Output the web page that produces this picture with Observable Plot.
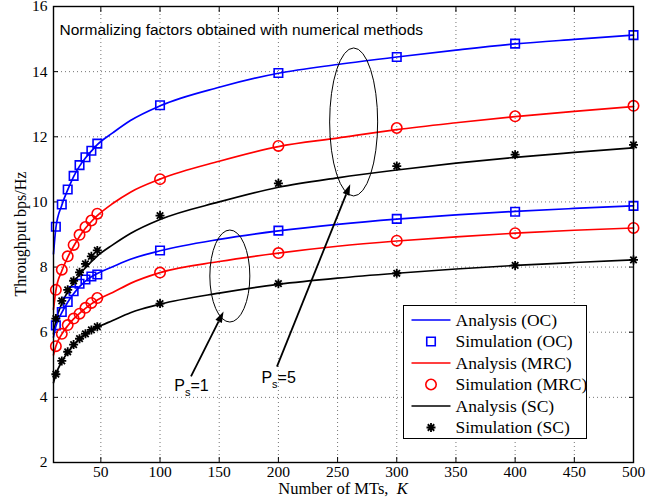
<!DOCTYPE html>
<html>
<head>
<meta charset="utf-8">
<script src="https://cdn.jsdelivr.net/npm/d3@7"></script>
<script src="https://cdn.jsdelivr.net/npm/@observablehq/plot@0.6"></script>
<style>
  body { margin: 0; background: #fff; }
  #chart svg { display: block; }
</style>
</head>
<body>
<div id="chart"></div>
<script>
// Number of mobile terminals K at which the analytical curves are sampled
const kAnalysis = [10, 12, 17, 22, 27, 32, 37, 42, 47, 60, 75, 100, 150, 200, 250, 300, 350, 400, 450, 500];

// Analytical throughput (bps/Hz), P_s = 5
const ocP5Analysis  = [8.40, 9.20, 9.90, 10.37, 10.78, 11.10, 11.35, 11.56, 11.76, 12.12, 12.50, 12.95, 13.52, 13.95, 14.22, 14.45, 14.66, 14.85, 14.99, 15.12];
const mrcP5Analysis = [6.70, 7.28, 7.88, 8.30, 8.64, 8.94, 9.19, 9.40, 9.58, 9.95, 10.30, 10.70, 11.25, 11.70, 11.96, 12.22, 12.43, 12.62, 12.78, 12.93];
const scP5Analysis  = [5.95, 6.35, 6.88, 7.24, 7.52, 7.77, 7.98, 8.17, 8.34, 8.68, 9.03, 9.46, 10.00, 10.45, 10.74, 10.98, 11.19, 11.37, 11.52, 11.66];

// Analytical throughput (bps/Hz), P_s = 1
const ocP1Analysis  = [5.85, 6.18, 6.60, 6.92, 7.18, 7.40, 7.57, 7.70, 7.80, 8.01, 8.24, 8.50, 8.85, 9.11, 9.31, 9.47, 9.60, 9.71, 9.80, 9.88];
const mrcP1Analysis = [5.30, 5.57, 5.94, 6.20, 6.41, 6.58, 6.73, 6.87, 6.99, 7.22, 7.50, 7.83, 8.17, 8.43, 8.64, 8.80, 8.93, 9.04, 9.13, 9.20];
const scP1Analysis  = [4.45, 4.70, 5.10, 5.38, 5.60, 5.78, 5.93, 6.05, 6.15, 6.36, 6.60, 6.86, 7.20, 7.47, 7.66, 7.81, 7.94, 8.05, 8.14, 8.22];

// K values of the simulated points
const kSimulation = [12, 17, 22, 27, 32, 37, 42, 47, 100, 200, 300, 400, 500];

// Simulated throughput (bps/Hz), P_s = 5
const ocP5Sim  = [9.24, 9.92, 10.38, 10.80, 11.13, 11.37, 11.57, 11.79, 12.97, 13.96, 14.45, 14.86, 15.12];
const mrcP5Sim = [7.30, 7.92, 8.33, 8.68, 8.99, 9.23, 9.43, 9.64, 10.70, 11.72, 12.27, 12.63, 12.95];
const scP5Sim  = [6.42, 6.96, 7.30, 7.58, 7.84, 8.10, 8.33, 8.51, 9.58, 10.57, 11.10, 11.45, 11.75];

// Simulated throughput (bps/Hz), P_s = 1
const ocP1Sim  = [6.21, 6.62, 6.93, 7.26, 7.49, 7.62, 7.71, 7.77, 8.51, 9.12, 9.48, 9.70, 9.88];
const mrcP1Sim = [5.57, 5.95, 6.22, 6.42, 6.57, 6.75, 6.90, 7.05, 7.83, 8.43, 8.81, 9.04, 9.20];
const scP1Sim  = [4.71, 5.12, 5.40, 5.62, 5.80, 5.95, 6.07, 6.17, 6.88, 7.49, 7.81, 8.05, 8.22];

// Axis ticks
const xTicks = [50, 100, 150, 200, 250, 300, 350, 400, 450, 500];
const yTicks = [2, 4, 6, 8, 10, 12, 14, 16];

// Combining schemes: legend names and styles
const schemes = [
  {key: "OC",  color: "#0000ff", symbol: "square"},
  {key: "MRC", color: "#ff0000", symbol: "circle"},
  {key: "SC",  color: "#000000", symbol: "star"}
];

const series = [
  {scheme: "OC",  ps: 5, analysis: ocP5Analysis,  sim: ocP5Sim},
  {scheme: "MRC", ps: 5, analysis: mrcP5Analysis, sim: mrcP5Sim},
  {scheme: "SC",  ps: 5, analysis: scP5Analysis,  sim: scP5Sim},
  {scheme: "OC",  ps: 1, analysis: ocP1Analysis,  sim: ocP1Sim},
  {scheme: "MRC", ps: 1, analysis: mrcP1Analysis, sim: mrcP1Sim},
  {scheme: "SC",  ps: 1, analysis: scP1Analysis,  sim: scP1Sim}
];

const colorOf = Object.fromEntries(schemes.map(s => [s.key, s.color]));

const analysisRows = series.flatMap(s =>
  kAnalysis.map((k, i) => ({k, value: s.analysis[i], scheme: s.scheme, id: s.scheme + s.ps})));
const simRows = series.flatMap(s =>
  kSimulation.map((k, i) => ({k, value: s.sim[i], scheme: s.scheme})));

// MATLAB-style "*" marker: a plus overlaid with a cross
const star = {
  draw(context, size) {
    const r = Math.sqrt(size / Math.PI);
    const d = r * 0.72;
    context.moveTo(-r, 0); context.lineTo(r, 0);
    context.moveTo(0, -r); context.lineTo(0, r);
    context.moveTo(-d, -d); context.lineTo(d, d);
    context.moveTo(-d, d); context.lineTo(d, -d);
  }
};

const gridStyle = {stroke: "#000", strokeOpacity: 0.55, strokeWidth: 1, strokeDasharray: "1,3"};
const serifFont = "'Liberation Serif', 'Times New Roman', serif";
const sansFont = "'Liberation Sans', Arial, Helvetica, sans-serif";

const chart = Plot.plot({
  width: 668,
  height: 501,
  marginLeft: 53,
  marginRight: 35,
  marginTop: 6,
  marginBottom: 39,
  style: {fontFamily: serifFont, fontSize: "15.5px", color: "#000", background: "#fff"},
  x: {domain: [10, 500]},
  y: {domain: [2, 16]},
  marks: [
    Plot.gridX(xTicks, gridStyle),
    Plot.gridY(yTicks, gridStyle),
    Plot.axisX(xTicks, {anchor: "bottom", tickSize: -5, tickPadding: 8, label: null, strokeWidth: 1}),
    Plot.axisX(xTicks, {anchor: "top", tickSize: -5, tickFormat: () => "", label: null, strokeWidth: 1}),
    Plot.axisY(yTicks, {anchor: "left", tickSize: -5, tickPadding: 11, label: null, strokeWidth: 1}),
    Plot.axisY(yTicks, {anchor: "right", tickSize: -5, tickFormat: () => "", label: null, strokeWidth: 1}),
    Plot.line(analysisRows, {
      x: "k", y: "value", z: "id", stroke: d => colorOf[d.scheme],
      strokeWidth: 1.7, curve: "monotone-x"
    }),
    Plot.dot(simRows.filter(d => d.scheme === "OC"), {
      x: "k", y: "value", symbol: "square", r: 4.8, stroke: colorOf.OC, strokeWidth: 1.6, fill: "none"
    }),
    Plot.dot(simRows.filter(d => d.scheme === "MRC"), {
      x: "k", y: "value", symbol: "circle", r: 5.2, stroke: colorOf.MRC, strokeWidth: 1.6, fill: "none"
    }),
    Plot.dot(simRows.filter(d => d.scheme === "SC"), {
      x: "k", y: "value", symbol: star, r: 4.5, stroke: colorOf.SC, strokeWidth: 1.8, fill: "none"
    }),
    Plot.text(["Normalizing factors obtained with numerical methods"], {
      frameAnchor: "top-left", dx: 6, dy: 17, textAnchor: "start", lineAnchor: "top",
      fontFamily: sansFont, fontSize: 15.5, fill: "#000"
    }),
    Plot.frame({stroke: "#000", strokeWidth: 1.4})
  ]
});

document.getElementById("chart").appendChild(chart);

// Annotations, legend and axis titles drawn on top of the plot
const svg = d3.select(chart);
const sx = chart.scale("x").apply;
const sy = chart.scale("y").apply;
const W = 668, H = 501, ML = 53, MR = 35, MT = 6, MB = 39;

// Axis titles
svg.append("text")
  .attr("x", (ML + W - MR) / 2).attr("y", 494)
  .attr("text-anchor", "middle")
  .attr("font-family", serifFont).attr("font-size", 16.5)
  .call(t => {
    t.append("tspan").text("Number of MTs,\u00a0\u00a0");
    t.append("tspan").attr("font-style", "italic").text("K");
  });
svg.append("text")
  .attr("transform", `translate(26,${(MT + H - MB) / 2}) rotate(-90)`)
  .attr("text-anchor", "middle")
  .attr("font-family", serifFont).attr("font-size", 16)
  .text("Throughput bps/Hz");

// Groups of curves for each P_s: ellipses, arrows and labels
const groups = [
  {ps: 1, ellipse: {k: 159.4, v: 7.71, rx: 20, ry: 46}, arrowFrom: {k: 126.6, v: 4.63}, arrowTo: {k: 154.1, v: 6.62}, label: {k: 112.5, v: 4.19}},
  {ps: 5, ellipse: {k: 264, v: 12.44, rx: 24, ry: 74}, arrowFrom: {k: 199.2, v: 4.93}, arrowTo: {k: 261.1, v: 10.53}, label: {k: 186.1, v: 4.43}}
];

const ann = svg.append("g");
for (const g of groups) {
  ann.append("ellipse")
    .attr("cx", sx(g.ellipse.k)).attr("cy", sy(g.ellipse.v))
    .attr("rx", g.ellipse.rx).attr("ry", g.ellipse.ry)
    .attr("fill", "none").attr("stroke", "#000").attr("stroke-width", 1);
  const x1 = sx(g.arrowFrom.k), y1 = sy(g.arrowFrom.v);
  const x2 = sx(g.arrowTo.k), y2 = sy(g.arrowTo.v);
  const a = Math.atan2(y2 - y1, x2 - x1);
  const len = 11, half = 3.6;
  const bx = x2 - len * Math.cos(a), by = y2 - len * Math.sin(a);
  ann.append("line")
    .attr("x1", x1).attr("y1", y1).attr("x2", bx).attr("y2", by)
    .attr("stroke", "#000").attr("stroke-width", 1.8);
  ann.append("path")
    .attr("d", `M${x2},${y2}L${bx - half * Math.sin(a)},${by + half * Math.cos(a)}L${bx + half * Math.sin(a)},${by - half * Math.cos(a)}Z`)
    .attr("fill", "#000");
  const t = ann.append("text")
    .attr("x", sx(g.label.k)).attr("y", sy(g.label.v))
    .attr("text-anchor", "start")
    .attr("font-family", sansFont).attr("font-size", 16);
  t.append("tspan").text("P");
  t.append("tspan").attr("font-size", 11).attr("dy", 5).text("s");
  t.append("tspan").attr("dy", -5).text("=" + g.ps);
}

// Legend
const legendRows = schemes.flatMap(s => [
  {kind: "line", label: `Analysis (${s.key})`, scheme: s},
  {kind: "marker", label: `Simulation (${s.key})`, scheme: s}
]);
const lg = svg.append("g").attr("transform", "translate(403.5,305.5)");
lg.append("rect").attr("width", 183).attr("height", 133)
  .attr("fill", "#fff").attr("stroke", "#000").attr("stroke-width", 1);
const rowY = i => 14.5 + i * 21.5;
legendRows.forEach((row, i) => {
  const y = rowY(i);
  if (row.kind === "line") {
    lg.append("line").attr("x1", 8).attr("x2", 47).attr("y1", y).attr("y2", y)
      .attr("stroke", row.scheme.color).attr("stroke-width", 1.7);
  } else {
    const sym = row.scheme.symbol === "square" ? d3.symbolSquare
      : row.scheme.symbol === "circle" ? d3.symbolCircle : star;
    const r = row.scheme.symbol === "square" ? 4.8 : row.scheme.symbol === "circle" ? 5.2 : 4.5;
    lg.append("path")
      .attr("transform", `translate(27.5,${y})`)
      .attr("d", d3.symbol(sym, Math.PI * r * r)())
      .attr("fill", "none").attr("stroke", row.scheme.color).attr("stroke-width", row.scheme.symbol === "star" ? 1.8 : 1.6);
  }
  lg.append("text").attr("x", 52).attr("y", y + 5.5)
    .attr("text-anchor", "start")
    .attr("font-family", serifFont).attr("font-size", 17.5)
    .text(row.label);
});
</script>
</body>
</html>
